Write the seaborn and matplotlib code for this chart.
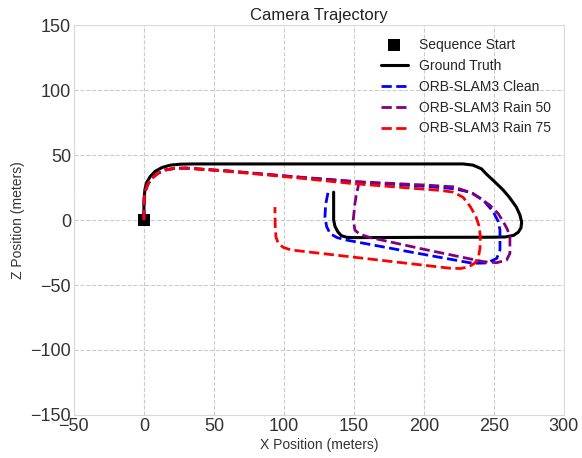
import matplotlib
matplotlib.use("Agg")
import matplotlib.pyplot as plt
import seaborn as sns
import pandas as pd

# Ground truth trajectory (X, Z in meters)
gt_x = [0, 0, 0.2, 0.8, 2, 4.5, 8, 13, 19, 26, 35, 100, 180, 228, 235, 241, 245, 251, 256.7, 261,
        266, 268.5, 269.8, 269.3, 267.4, 264, 258, 250, 200, 150, 145, 141, 138.5, 136.5, 135.5, 135.5, 135.5]
gt_z = [0, 10, 18, 24, 29, 33.5, 37.5, 40.5, 42.3, 43, 43.2, 43.2, 43.2, 43.2, 42.3, 39.5, 35, 29, 23, 17.5,
        10, 4, -1.5, -6, -9.3, -11.8, -13, -13.2, -13.3, -13.5, -13.3, -12, -9, -5, 0, 10, 21.5]

# ORB-SLAM3 Clean
clean_x = [0, 0, 0.3, 1.2, 3, 6, 10, 15, 22, 30, 60, 100, 150, 200, 221, 233, 242.4, 249.5, 253, 254.3,
           254.3, 252, 245, 235, 190, 144.8, 138, 133, 130.5, 129.3, 129.8, 131.6]
clean_z = [0, 10, 17, 23, 28, 32.5, 36, 38.5, 39.8, 40, 37.8, 34, 29.5, 26, 24.2, 21.5, 15.4, 6.4, -1,
           -7.7, -23, -29.5, -33, -33.3, -24.5, -15.4, -13.5, -10.5, -5, 2.5, 12, 21.8]

# ORB-SLAM3 Rain 50
rain50_x = [0, 0, 0.3, 1.2, 3, 6, 10, 15, 22, 30, 60, 100, 153, 200, 221, 235, 247, 253, 256.7, 259.5,
            261.4, 261.4, 259, 252, 242.4, 200, 161, 154, 150.7, 149.5, 150.7, 151.8, 153, 153.5]
rain50_z = [0, 10, 17, 23, 28, 32.5, 36, 38.5, 39.8, 40, 37.8, 34, 29.5, 27, 25.6, 20.5, 11.5, 5, -1.3, -7,
            -12.8, -25.6, -30.8, -32.8, -32, -22.5, -13.3, -10.8, -7.7, 0, 12.8, 20, 25.6, 29.5]

# ORB-SLAM3 Rain 75
rain75_x = [0, 0, 0.3, 1.2, 3, 6, 10, 15, 22, 30, 60, 100, 150, 200, 212, 221, 228, 233, 237, 239.5,
            240.3, 240, 239, 236.5, 232, 226, 218, 168, 105, 99.5, 96, 94.3, 93.8, 93.6, 93.6]
rain75_z = [0, 10, 17, 23, 28, 32.5, 36, 38.5, 39.8, 40, 37.5, 33.5, 28, 23.8, 22.8, 21.5, 17.5, 10.5, 3, -5,
            -13, -22, -28, -33, -36, -37.3, -37, -30.8, -23, -21, -18, -13, -5, 4, 10]

start_x = [0]
start_z = [0]

series = [
    ("Ground Truth", gt_x, gt_z, "black", "-"),
    ("ORB-SLAM3 Clean", clean_x, clean_z, "blue", "--"),
    ("ORB-SLAM3 Rain 50", rain50_x, rain50_z, "purple", "--"),
    ("ORB-SLAM3 Rain 75", rain75_x, rain75_z, "red", "--"),
]

sns.set_style("whitegrid", {"grid.linestyle": "--", "axes.edgecolor": ".85", "grid.color": ".8"})
plt.rcParams["font.family"] = ["Liberation Sans", "DejaVu Sans"]

fig, ax = plt.subplots(figsize=(5.82, 4.58), dpi=100)
fig.subplots_adjust(left=0.127, right=0.969, top=0.945, bottom=0.094)

sns.scatterplot(x=start_x, y=start_z, marker="s", color="black", s=85, edgecolor="black",
                linewidth=0, label="Sequence Start", ax=ax, zorder=2)

for name, xs, zs, color, ls in series:
    df = pd.DataFrame({"x": xs, "z": zs})
    sns.lineplot(data=df, x="x", y="z", sort=False, estimator=None, color=color,
                 linestyle=ls, linewidth=2.2 if ls == "-" else 2.0, label=name, ax=ax, zorder=3)

ax.set_xlim(-50, 300)
ax.set_ylim(-150, 150)
ax.set_xticks(range(-50, 301, 50))
ax.set_yticks(range(-150, 151, 50))
ax.tick_params(axis="both", labelsize=13, colors="#333333", length=0, pad=2)
ax.set_xlabel("X Position (meters)", fontsize=10, color="#333333", labelpad=2)
ax.set_ylabel("Z Position (meters)", fontsize=10, color="#333333", labelpad=4)
ax.set_title("Camera Trajectory", fontsize=12, color="#222222", pad=4)
ax.legend(loc="upper right", frameon=False, fontsize=10, markerscale=1.0)

fig.savefig("out.png", dpi=100)
